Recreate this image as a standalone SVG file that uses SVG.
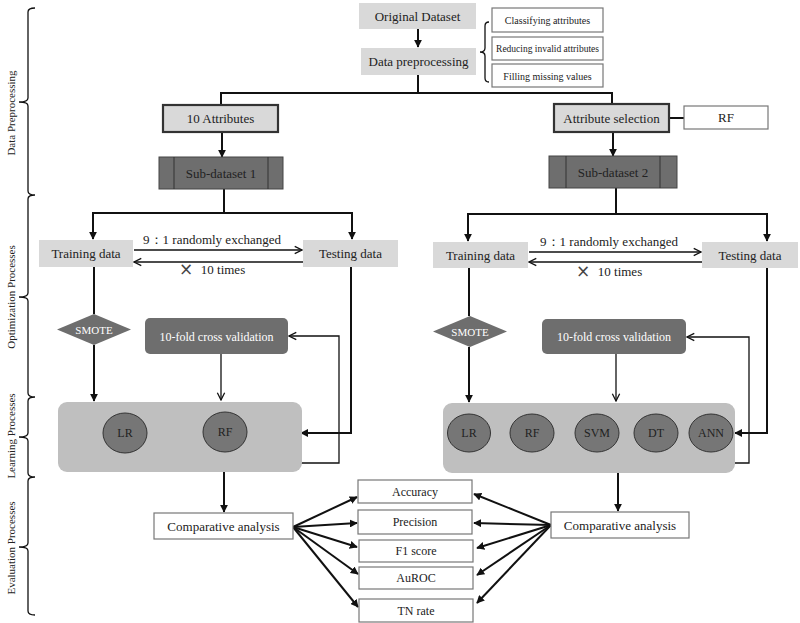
<svg xmlns="http://www.w3.org/2000/svg" width="800" height="623" viewBox="0 0 800 623">
<defs>
<marker id="fa" viewBox="0 0 10 10" refX="9" refY="5" markerWidth="4" markerHeight="4" orient="auto" markerUnits="strokeWidth">
<path d="M0,0 L10,5 L0,10 Z" fill="#111"/>
</marker>
<marker id="oa" viewBox="0 0 10 10" refX="9" refY="5" markerWidth="7" markerHeight="7" orient="auto" markerUnits="strokeWidth">
<path d="M1,1 L9,5 L1,9" fill="none" stroke="#111" stroke-width="1.4"/>
</marker>
</defs>
<style>
text{font-family:"Liberation Serif","DejaVu Serif",serif;fill:#222;text-anchor:middle}
.lg{fill:#d9d9d9}
.wb{fill:#fff;stroke:#777;stroke-width:1.2}
.tb{fill:#d9d9d9;stroke:#333;stroke-width:2.2}
.dk{fill:#6e6e6e;stroke:#444;stroke-width:1}
.lb{fill:#bfbfbf}
.ci{fill:#767676;stroke:#333;stroke-width:1}
.th{fill:none;stroke:#111;stroke-width:2}
.tn{fill:none;stroke:#111;stroke-width:1.3}
.f13{font-size:13px}
.f12{font-size:12px}
.f11{font-size:11px}
.f10{font-size:10px}
.x{font-size:17px;font-family:"DejaVu Sans",sans-serif;fill:#444}
.w{fill:#fff}
</style>

<g id="side-brackets">
<path class="tn" stroke-width="1.8" d="M35,8 Q28,8 28,12 L28,98 Q28,102 19,102 Q28,102 28,106 L28,191 Q28,195 35,195 Q28,195 28,199 L28,293 Q28,297 19,297 Q28,297 28,301 L28,393 Q28,397 35,397 Q28,397 28,401 L28,433 Q28,437 19,437 Q28,437 28,441 L28,473 Q28,477 35,477 Q28,477 28,481 L28,543 Q28,547 19,547 Q28,547 28,551 L28,611 Q28,615 35,615"/>
<text class="f11" transform="translate(15,113) rotate(-90)">Data Preprocessing</text>
<text class="f11" transform="translate(15,297) rotate(-90)">Optimization Processes</text>
<text class="f11" transform="translate(15,436) rotate(-90)">Learning Processes</text>
<text class="f11" transform="translate(15,548) rotate(-90)">Evaluation Processes</text>
</g>

<g id="connectors">
<line class="th" x1="418" y1="29" x2="418" y2="47" marker-end="url(#fa)"/>
<path class="th" d="M418,75 L418,93 M221,93 L612,93 M221,92 L221,105 M612,92 L612,104"/>
<path class="th" d="M669,118 L684,118"/>
<path class="tn" d="M489,22 Q485,22 485,26 L485,48 Q485,52 480,52 Q485,52 485,56 L485,78 Q485,82 489,82"/>
<line class="th" x1="222" y1="132" x2="222" y2="157" marker-end="url(#fa)"/>
<line class="th" x1="613" y1="132" x2="613" y2="156" marker-end="url(#fa)"/>
<path class="th" d="M224,189 L224,213 M93,213 L352,213"/>
<line class="th" x1="93" y1="212" x2="93" y2="239" marker-end="url(#fa)"/>
<line class="th" x1="352" y1="212" x2="352" y2="239" marker-end="url(#fa)"/>
<line class="tn" x1="134" y1="250" x2="302" y2="250" marker-end="url(#oa)"/>
<line class="tn" x1="303" y1="262" x2="134" y2="262" marker-end="url(#oa)"/>
<path class="th" d="M616,188 L616,214 M468,214 L767,214"/>
<line class="th" x1="468" y1="213" x2="468" y2="241" marker-end="url(#fa)"/>
<line class="th" x1="767" y1="213" x2="767" y2="241" marker-end="url(#fa)"/>
<line class="tn" x1="529" y1="252" x2="701" y2="252" marker-end="url(#oa)"/>
<line class="tn" x1="702" y1="262" x2="529" y2="262" marker-end="url(#oa)"/>
<line class="th" x1="94" y1="267" x2="94" y2="314"/>
<line class="th" x1="94" y1="345" x2="94" y2="401" marker-end="url(#fa)"/>
<line class="tn" x1="221" y1="354" x2="221" y2="400" marker-end="url(#oa)"/>
<path class="th" d="M351,267 L351,433 L301,433" marker-end="url(#fa)"/>
<path class="tn" stroke-width="1.6" d="M125,453 L125,463 L339,463 L339,336 L289,336" marker-end="url(#oa)"/>
<line class="tn" stroke-width="1.6" x1="225" y1="452" x2="225" y2="463"/>
<line class="th" x1="224" y1="472" x2="224" y2="512" marker-end="url(#fa)"/>
<line class="th" x1="469" y1="268" x2="469" y2="316"/>
<line class="th" x1="469" y1="347" x2="469" y2="402" marker-end="url(#fa)"/>
<line class="tn" x1="616" y1="354" x2="616" y2="401" marker-end="url(#oa)"/>
<path class="th" d="M767,268 L767,433 L735,433" marker-end="url(#fa)"/>
<path class="tn" stroke-width="1.6" d="M469,452 L469,463 L749,463 L749,337 L687,337" marker-end="url(#oa)"/>
<path class="tn" stroke-width="1.6" d="M532,451 L532,463 M597,451 L597,463 M656,451 L656,463 M711,451 L711,463"/>
<line class="th" x1="618" y1="473" x2="618" y2="511" marker-end="url(#fa)"/>
<g class="th">
<line x1="293" y1="527" x2="357" y2="497" marker-end="url(#fa)"/>
<line x1="293" y1="527" x2="357" y2="523" marker-end="url(#fa)"/>
<line x1="293" y1="527" x2="357" y2="547" marker-end="url(#fa)"/>
<line x1="293" y1="527" x2="358" y2="574" marker-end="url(#fa)"/>
<line x1="293" y1="527" x2="358" y2="607" marker-end="url(#fa)"/>
<line x1="551" y1="525" x2="474" y2="494" marker-end="url(#fa)"/>
<line x1="551" y1="525" x2="474" y2="523" marker-end="url(#fa)"/>
<line x1="551" y1="525" x2="477" y2="548" marker-end="url(#fa)"/>
<line x1="551" y1="525" x2="477" y2="575" marker-end="url(#fa)"/>
<line x1="551" y1="525" x2="477" y2="603" marker-end="url(#fa)"/>
</g>
</g>

<g id="original-dataset"><rect class="lg" x="359" y="3" width="117" height="26"/><text class="f13" x="417.5" y="20.5">Original Dataset</text></g>
<g id="data-preprocessing"><rect class="lg" x="361" y="48" width="115" height="27"/><text class="f13" x="418.5" y="66">Data preprocessing</text></g>
<g id="classifying"><rect class="wb" x="492" y="8" width="111" height="24"/><text class="f10" x="547.5" y="24">Classifying attributes</text></g>
<g id="reducing"><rect class="wb" x="492" y="37" width="111" height="23"/><text x="547.5" y="52" font-size="9.5px">Reducing invalid attributes</text></g>
<g id="filling"><rect class="wb" x="492" y="64" width="111" height="23"/><text class="f10" x="547.5" y="80">Filling missing values</text></g>
<g id="ten-attributes"><rect class="tb" x="163" y="105" width="115" height="27"/><text class="f13" x="220.5" y="123">10 Attributes</text></g>
<g id="attribute-selection"><rect class="tb" x="554" y="104" width="115" height="28"/><text class="f13" x="611.5" y="122.5">Attribute selection</text></g>
<g id="rf-box"><rect class="wb" x="684" y="106" width="84" height="23"/><text class="f13" x="726" y="122">RF</text></g>
<g id="sub-dataset-1"><rect class="dk" x="159" y="157" width="124" height="32"/><path d="M174,157 V189 M268,157 V189" stroke="#333" stroke-width="1"/><text class="f13" x="221" y="177.5">Sub-dataset 1</text></g>
<g id="sub-dataset-2"><rect class="dk" x="549" y="156" width="128" height="32"/><path d="M566,156 V188 M660,156 V188" stroke="#333" stroke-width="1"/><text class="f13" x="613" y="176.5">Sub-dataset 2</text></g>

<g id="training-1"><rect class="lg" x="39" y="240" width="94" height="27"/><text class="f13" x="86" y="258">Training data</text></g>
<g id="testing-1"><rect class="lg" x="303" y="240" width="95" height="27"/><text class="f13" x="350.5" y="258">Testing data</text></g>
<text class="f13" x="212" y="244">9：1 randomly exchanged</text>
<text class="x" x="186" y="275">×</text>
<text class="f13" x="223" y="274">10 times</text>
<g id="training-2"><rect class="lg" x="433" y="242" width="95" height="26"/><text class="f13" x="480.5" y="259.5">Training data</text></g>
<g id="testing-2"><rect class="lg" x="702" y="242" width="96" height="26"/><text class="f13" x="750" y="259.5">Testing data</text></g>
<text class="f13" x="609" y="246">9：1 randomly exchanged</text>
<text class="x" x="583" y="277">×</text>
<text class="f13" x="620" y="276">10 times</text>

<g id="smote-1"><polygon points="94,314 131,329.5 94,345 57,329.5" fill="#6e6e6e"/><text class="f11 w" x="94" y="333.5">SMOTE</text></g>
<g id="smote-2"><polygon points="470,316 507,331.5 470,347 433,331.5" fill="#6e6e6e"/><text class="f11 w" x="470" y="335.5">SMOTE</text></g>
<g id="cv-1"><rect x="145" y="318" width="143" height="36" rx="5" fill="#6e6e6e"/><text class="f12 w" x="216.5" y="340.5">10-fold cross validation</text></g>
<g id="cv-2"><rect x="542" y="319" width="144" height="35" rx="5" fill="#6e6e6e"/><text class="f12 w" x="614" y="341">10-fold cross validation</text></g>

<g id="learning-1"><rect class="lb" x="58" y="402" width="244" height="70" rx="9"/></g>
<g id="lr-1"><ellipse class="ci" cx="125" cy="433" rx="22" ry="20"/><text class="f12" x="125" y="437">LR</text></g>
<g id="rf-1"><ellipse class="ci" cx="225" cy="432" rx="22" ry="20"/><text class="f12" x="225" y="436">RF</text></g>
<g id="learning-2"><rect class="lb" x="443" y="403" width="292" height="70" rx="9"/></g>
<g id="lr-2"><ellipse class="ci" cx="469" cy="433" rx="21.5" ry="19"/><text class="f12" x="469" y="437">LR</text></g>
<g id="rf-2"><ellipse class="ci" cx="532" cy="433" rx="22" ry="19"/><text class="f12" x="532" y="437">RF</text></g>
<g id="svm-2"><ellipse class="ci" cx="597" cy="433" rx="22" ry="19"/><text class="f12" x="597" y="437">SVM</text></g>
<g id="dt-2"><ellipse class="ci" cx="656" cy="433" rx="22" ry="19"/><text class="f12" x="656" y="437">DT</text></g>
<g id="ann-2"><ellipse class="ci" cx="711" cy="433" rx="22" ry="19"/><text class="f12" x="711" y="437">ANN</text></g>

<g id="comparative-1"><rect class="wb" x="154" y="513" width="139" height="26"/><text class="f13" x="223.5" y="530.5">Comparative analysis</text></g>
<g id="comparative-2"><rect class="wb" x="551" y="512" width="138" height="26"/><text class="f13" x="620" y="529.5">Comparative analysis</text></g>
<g id="accuracy"><rect class="wb" x="358" y="480" width="114" height="23"/><text class="f12" x="415" y="495.5">Accuracy</text></g>
<g id="precision"><rect class="wb" x="358" y="510" width="114" height="24"/><text class="f12" x="415" y="526">Precision</text></g>
<g id="f1"><rect class="wb" x="359" y="540" width="114" height="22"/><text class="f12" x="416" y="555">F1 score</text></g>
<g id="auroc"><rect class="wb" x="359" y="567" width="114" height="22"/><text class="f12" x="416" y="582">AuROC</text></g>
<g id="tn-rate"><rect class="wb" x="359" y="599" width="114" height="23"/><text class="f12" x="416" y="614.5">TN rate</text></g>
</svg>
